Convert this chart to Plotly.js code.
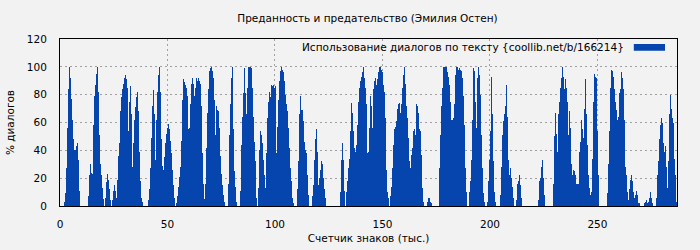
<!DOCTYPE html>
<html>
<head>
<meta charset="utf-8">
<script src="https://cdn.plot.ly/plotly-3.0.1.min.js"></script>
<style>html,body{margin:0;padding:0;background:#f2f2f2;}#chart{width:700px;height:250px;}</style>
</head>
<body>
<div id="chart"></div>
<script>
const chartTitle = "Преданность и предательство (Эмилия Остен)";
const xTitle = "Счетчик знаков (тыс.)";
const yTitle = "% диалогов";
const seriesName = "Использование диалогов по тексту {coollib.net/b/166214}";
const xMax = 287;            // thousands of characters
const xTicks = [0, 50, 100, 150, 200, 250];
const yTicks = [0, 20, 40, 60, 80, 100, 120];

// share of dialogue (%) per consecutive text slice, from the start of the book
const dialogShare = [
0,0,0,0,
3,9,27,56,84,100,92,77,62,48,40,40,43,45,33,11,
0,0,0,0,0,0,0,0,
7,22,30,24,23,58,79,87,95,100,82,51,30,22,13,5,
0,
6,17,23,19,12,4,
0,
4,11,15,11,6,19,36,45,68,78,84,88,92,94,91,85,54,75,86,66,28,45,62,71,78,82,68,39,18,6,3,
0,0,0,0,0,
4,12,27,49,72,83,66,33,62,82,94,100,82,48,29,26,35,45,52,56,59,55,47,38,26,15,6,
0,
2,7,14,21,
28,47,76,91,89,87,85,79,55,56,73,88,92,88,79,85,92,90,92,90,88,72,38,16,5,16,42,67,84,97,99,100,97,92,76,51,72,69,68,56,36,23,15,8,3,
0,0,0,
16,51,73,92,100,55,25,14,3,
0,0,0,
11,44,64,81,99,81,66,85,100,100,100,99,85,64,46,32,6,
0,
13,40,54,51,45,33,22,13,38,63,75,82,78,87,86,87,85,86,38,57,76,90,97,100,98,96,90,80,73,68,56,42,27,18,6,2,
0,0,0,
12,32,66,
79,69,69,61,46,40,38,22,8,
0,0,0,
7,15,33,48,55,39,15,20,26,32,30,20,12,6,
0,0,0,0,0,0,0,0,0,0,0,0,0,0,
10,33,45,33,11,
0,
10,18,27,34,54,74,67,54,42,39,44,58,75,85,90,93,96,100,92,85,73,38,39,56,79,72,56,84,90,92,87,91,96,100,100,98,96,87,82,63,26,10,6,
0,
7,14,27,44,55,57,61,70,73,74,67,73,85,94,100,88,72,63,49,32,27,37,42,54,55,51,73,72,67,55,
54,37,13,3,
0,0,0,
3,6,6,3,2,
0,0,0,0,0,0,0,
27,51,72,85,100,100,100,100,96,93,87,75,62,62,63,73,94,100,100,98,99,98,97,92,79,58,27,10,
0,0,
10,18,33,62,99,97,75,56,92,100,94,80,51,27,9,3,
0,0,
3,18,33,54,93,66,32,10,3,
0,0,0,0,
8,28,51,61,66,72,87,64,33,22,27,20,14,6,
0,0,
4,16,18,22,15,6,
0,0,0,0,0,0,0,0,0,0,0,0,0,0,0,0,
4,18,
20,28,33,20,8,
0,0,0,0,0,0,0,0,
16,50,67,52,39,66,75,85,92,100,93,84,91,85,75,51,68,56,30,22,26,25,22,16,16,16,39,46,62,55,49,70,91,66,44,22,13,8,10,34,75,95,93,92,54,22,
0,0,0,0,0,0,0,0,
9,30,54,85,98,97,93,84,75,69,62,64,81,84,96,92,84,62,28,22,10,4,12,19,22,18,10,6,8,11,8,2,2,
0,0,0,0,
2,3,4,2,3,6,10,6,2,
0,0,0,
6,22,32,48,58,63,60,45,39,43,28,13,32,66,80,70,63,60,34,22,3
];

const sliceWidth = xMax / dialogShare.length;
const sliceCenters = dialogShare.map((_, i) => (i + 0.5) * sliceWidth);

const barColor = "#0645ad";
const font = {family: "DejaVu Sans, sans-serif", size: 10.5, color: "#000"};
const tickFont = {family: "DejaVu Sans, sans-serif", size: 10.5, color: "#000"};

const trace = {
  type: "bar",
  x: sliceCenters,
  y: dialogShare,
  width: sliceWidth,
  marker: {color: barColor, line: {width: 0}},
  name: seriesName,
  showlegend: false,
  hoverinfo: "x+y"
};

const axisCommon = {
  showline: true, linecolor: "#000", linewidth: 1, mirror: true,
  ticks: "outside", tickcolor: "rgba(0,0,0,0)",
  showgrid: true, gridcolor: "#a0a0a0", griddash: "2px,3px", gridwidth: 1,
  zeroline: false, tickfont: tickFont
};

const layout = {
  width: 700, height: 250,
  margin: {l: 60, r: 23, t: 39, b: 44},
  paper_bgcolor: "#f2f2f2", plot_bgcolor: "#f2f2f2",
  font: font,
  bargap: 0,
  title: {text: chartTitle, font: font, x: 0.525, xanchor: "center", y: 0.925, yanchor: "middle"},
  xaxis: Object.assign({}, axisCommon, {
    range: [0, xMax], tickvals: xTicks, ticktext: xTicks.map(String), ticklen: 8,
    title: {text: xTitle, font: font, standoff: 6}
  }),
  yaxis: Object.assign({}, axisCommon, {
    range: [0, 120], tickvals: yTicks, ticktext: yTicks.map(String), ticklen: 10,
    title: {text: yTitle, font: font, standoff: 10}
  }),
  annotations: [{
    xref: "paper", yref: "paper", x: 0.917, y: 0.952,
    xanchor: "right", yanchor: "middle", showarrow: false,
    text: seriesName, font: font
  }],
  shapes: [{
    type: "rect", xref: "paper", yref: "paper",
    x0: 0.930, x1: 0.9806, y0: 0.930, y1: 0.970,
    fillcolor: barColor, line: {width: 0}
  }]
};

Plotly.newPlot("chart", [trace], layout, {displayModeBar: false, staticPlot: true});
</script>
</body>
</html>
